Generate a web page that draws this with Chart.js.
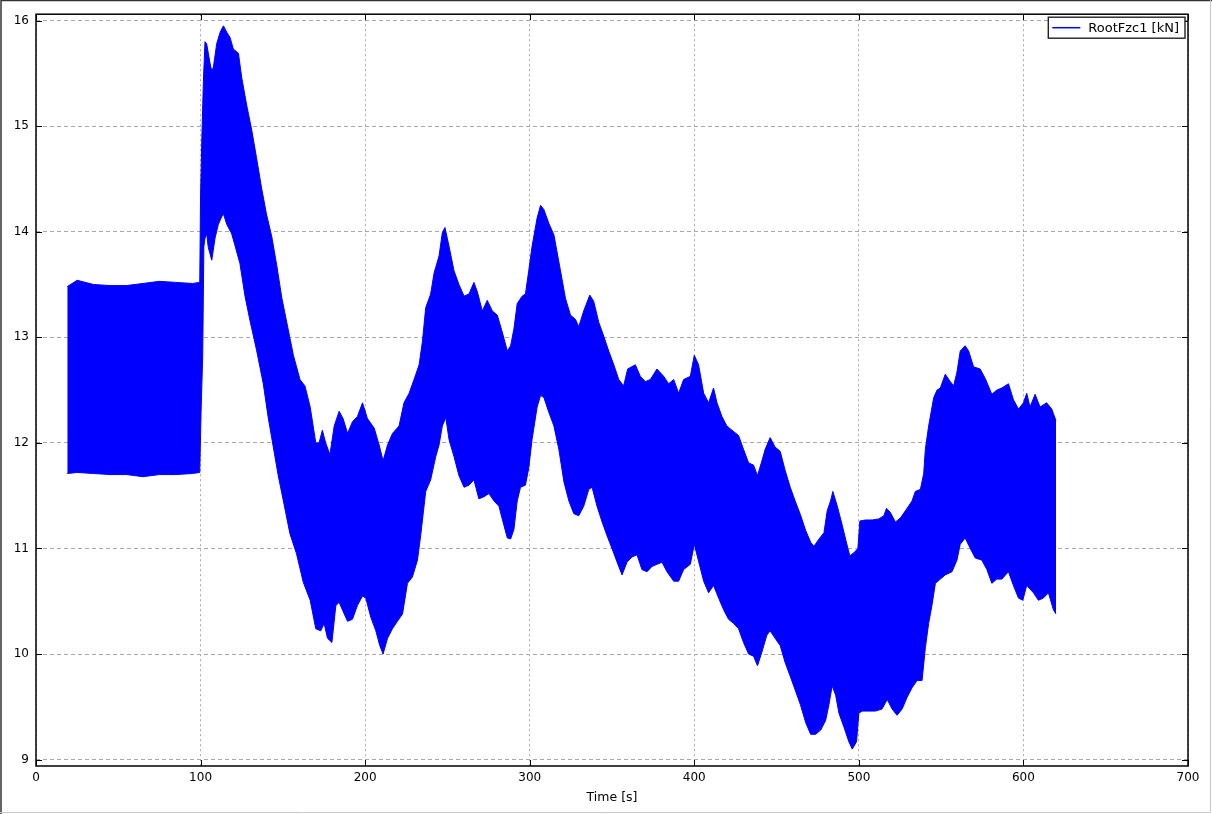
<!DOCTYPE html>
<html>
<head>
<meta charset="utf-8">
<script src="https://cdn.jsdelivr.net/npm/chart.js@4.4.1/dist/chart.umd.min.js"></script>
<style>
  html, body { margin: 0; padding: 0; background: #fff; }
  canvas { display: block; }
</style>
</head>
<body>
<canvas id="chart" width="1212" height="814"></canvas>
<script>
// RootFzc1 envelope: max and min of the blade root force over time
const upperTime = [19, 25, 35, 45, 55, 65, 75, 85, 95, 99.5, 100, 100.7, 101.7, 102.7, 103.7, 105.7, 106.8, 107.8, 109.8, 111.9,
  113.9, 115.9, 117.9, 119.9, 123, 125, 128, 131, 134, 137, 140, 143.3, 146.3, 149.4, 152.4, 156.4, 160.4, 163.4, 166.6, 170,
  172, 174, 176, 178.6, 181.2, 184.2, 186.6, 189.3, 192.3, 195.3, 198.4, 201.4, 205.5, 208.5, 210.9, 213.6, 216.6, 220.6, 223.6, 226.7,
  229.7, 232.8, 234.8, 236.8, 239.8, 241.9, 244.9, 246.9, 248.5, 251, 254, 257, 260.1, 263.1, 266.1, 268.2, 271.2, 274.2, 277.3, 280.3,
  283.3, 286.4, 288.4, 290.4, 292.4, 295.4, 297.4, 299.4, 301.4, 304.5, 306.6, 308.6, 311.6, 314.7, 318.7, 321.7, 324.8, 327.8, 329.8, 332.8,
  336.5, 338.9, 342, 345, 348, 351.1, 354.1, 357.1, 359.5, 364.2, 367.2, 370.3, 373.3, 377.3, 381.4, 384.4, 387.5, 390.5, 393.5, 397.6,
  400, 402.6, 405.7, 408.7, 411.7, 413.8, 416.8, 419.8, 422.9, 426.9, 429.9, 433, 436, 438.4, 441.1, 443.1, 446.1, 449.1, 452.2, 455.2,
  458.3, 461.3, 464.5, 467.7, 470.7, 472.7, 475.8, 478.8, 480.8, 482.8, 484.2, 486.9, 489.9, 491.9, 494.5, 497, 499.4, 500.6, 504, 508.1,
  512.1, 515.2, 516.8, 519.2, 522.2, 525.3, 529.3, 532.3, 534.3, 537.4, 539.4, 540.4, 542.4, 545.5, 547.5, 549.5, 552.5, 555.6, 557.6, 559.6,
  561.6, 564.6, 566.7, 569.7, 573.7, 576.8, 580.8, 583.8, 586.9, 590.9, 593.9, 597, 600, 602, 604, 607.1, 610.1, 614.1, 617.2, 619.8];
const upperKn = [13.48, 13.54, 13.50, 13.49, 13.49, 13.51, 13.53, 13.52, 13.51, 13.52, 14.35, 14.84, 15.42, 15.80, 15.78, 15.60, 15.52, 15.56, 15.78, 15.89,
  15.95, 15.89, 15.84, 15.73, 15.69, 15.46, 15.20, 14.97, 14.70, 14.42, 14.17, 13.95, 13.68, 13.37, 13.14, 12.83, 12.60, 12.54, 12.34, 12.00,
  12.00, 12.12, 12.00, 11.89, 12.16, 12.30, 12.23, 12.09, 12.20, 12.25, 12.38, 12.23, 12.14, 11.98, 11.83, 11.98, 12.09, 12.16, 12.38, 12.47,
  12.60, 12.74, 12.96, 13.28, 13.41, 13.61, 13.77, 13.99, 14.04, 13.86, 13.63, 13.50, 13.39, 13.41, 13.52, 13.43, 13.25, 13.35, 13.25, 13.21,
  13.05, 12.87, 12.92, 13.08, 13.32, 13.39, 13.41, 13.63, 13.86, 14.13, 14.25, 14.21, 14.08, 13.97, 13.63, 13.37, 13.21, 13.17, 13.10, 13.25,
  13.40, 13.34, 13.14, 13.01, 12.87, 12.74, 12.60, 12.54, 12.70, 12.74, 12.63, 12.58, 12.60, 12.70, 12.63, 12.56, 12.60, 12.47, 12.60, 12.63,
  12.83, 12.74, 12.47, 12.38, 12.52, 12.38, 12.25, 12.16, 12.12, 12.07, 11.94, 11.81, 11.79, 11.69, 11.83, 11.94, 12.05, 11.96, 11.92, 11.74,
  11.58, 11.45, 11.32, 11.17, 11.06, 11.02, 11.09, 11.15, 11.36, 11.45, 11.54, 11.40, 11.22, 11.09, 10.93, 10.96, 11.00, 11.26, 11.27, 11.27,
  11.28, 11.31, 11.38, 11.34, 11.25, 11.29, 11.38, 11.45, 11.54, 11.56, 11.71, 11.94, 12.16, 12.43, 12.50, 12.52, 12.65, 12.58, 12.54, 12.67,
  12.87, 12.92, 12.87, 12.72, 12.70, 12.61, 12.46, 12.50, 12.52, 12.56, 12.41, 12.32, 12.38, 12.47, 12.34, 12.46, 12.34, 12.38, 12.32, 12.21];

const lowerTime = [19, 25, 35, 45, 55, 65, 75, 85, 95, 99.5, 100.3, 101.3, 102, 102.7, 103.7, 104.7, 106.8, 108.8, 110.8, 112.8,
  113.9, 115.9, 118.9, 120.9, 123.9, 127, 130, 134, 138.1, 141.1, 144.2, 147.2, 150.2, 154.3, 158.3, 162.4, 166.6, 170, 173, 175.1,
  177.1, 179.8, 182.2, 184.2, 187.3, 189.3, 192.3, 195.3, 198.4, 200.4, 203.4, 206.5, 208.9, 210.9, 213.6, 216.6, 219.6, 222.7, 225.7, 228.7,
  231.8, 233.8, 236.8, 239.8, 242.9, 244.9, 246.9, 249, 251, 254, 257, 260.1, 263.1, 266.1, 269.1, 272.2, 275.2, 278.3, 281.3, 284.3,
  286.4, 288.4, 290.4, 292.4, 294.4, 297.4, 299.4, 301.4, 304.5, 306.6, 308.6, 311.6, 314.7, 317.7, 320.8, 323.8, 326.8, 329.8, 332.8, 335.9,
  337.9, 340.9, 344, 347, 350, 353.1, 356.1, 359.1, 362.2, 365.2, 368.2, 371.3, 374.3, 377.3, 380.4, 383.4, 387.5, 390.5, 393.5, 397.6,
  400, 402.6, 405.7, 408.7, 411.7, 414.8, 417.8, 420.8, 423.9, 426.9, 429.9, 433, 436, 438.4, 441.1, 444.1, 446.1, 449.1, 452.2, 455.2,
  458.3, 461.3, 464.5, 467.7, 470.7, 473.7, 476.8, 479.8, 481.8, 483.8, 485.9, 487.9, 490.9, 493.9, 496, 498.6, 500, 502, 506.1, 510.1,
  514.1, 517.2, 520.2, 523.2, 526.3, 529.3, 532.3, 535.4, 538.4, 540.4, 542.4, 544.4, 546.5, 549.5, 552.5, 556.6, 559.6, 561.6, 564.6, 567.7,
  570.7, 574.7, 577.8, 580.8, 583.8, 586.9, 590.9, 593.9, 597, 599.6, 602, 606.1, 609.1, 612.1, 615.2, 618.2, 619.8];
const lowerKn = [11.71, 11.72, 11.71, 11.70, 11.70, 11.68, 11.70, 11.70, 11.71, 11.72, 12.29, 12.83, 13.86, 13.94, 13.98, 13.85, 13.73, 13.94, 14.07, 14.14,
  14.17, 14.07, 13.98, 13.87, 13.70, 13.39, 13.16, 12.88, 12.56, 12.24, 11.96, 11.69, 11.46, 11.14, 10.95, 10.68, 10.51, 10.24, 10.22, 10.29,
  10.15, 10.11, 10.46, 10.49, 10.38, 10.31, 10.33, 10.46, 10.55, 10.53, 10.35, 10.22, 10.08, 10.00, 10.15, 10.24, 10.31, 10.38, 10.67, 10.73,
  10.89, 11.13, 11.54, 11.65, 11.87, 11.98, 12.16, 12.24, 12.03, 11.87, 11.69, 11.58, 11.60, 11.65, 11.47, 11.49, 11.52, 11.45, 11.40, 11.22,
  11.10, 11.09, 11.18, 11.45, 11.58, 11.60, 11.76, 12.03, 12.34, 12.45, 12.43, 12.29, 12.16, 11.94, 11.63, 11.45, 11.33, 11.31, 11.40, 11.56,
  11.58, 11.40, 11.25, 11.12, 11.00, 10.87, 10.75, 10.87, 10.92, 10.94, 10.80, 10.78, 10.83, 10.85, 10.87, 10.78, 10.69, 10.69, 10.80, 10.85,
  11.04, 10.88, 10.69, 10.58, 10.65, 10.53, 10.42, 10.33, 10.29, 10.24, 10.11, 10.00, 9.98, 9.89, 10.02, 10.18, 10.22, 10.15, 10.08, 9.92,
  9.79, 9.66, 9.52, 9.35, 9.24, 9.24, 9.28, 9.37, 9.52, 9.70, 9.61, 9.44, 9.31, 9.17, 9.10, 9.17, 9.44, 9.46, 9.46, 9.46,
  9.48, 9.57, 9.48, 9.42, 9.48, 9.59, 9.68, 9.75, 9.75, 10.06, 10.29, 10.46, 10.67, 10.71, 10.75, 10.78, 10.89, 11.04, 11.10, 11.00,
  10.91, 10.89, 10.80, 10.67, 10.71, 10.71, 10.78, 10.65, 10.53, 10.51, 10.65, 10.58, 10.51, 10.53, 10.58, 10.42, 10.38];

const seriesLabel = 'RootFzc1 [kN]';
const xTitle = 'Time [s]';
const xRange = [0, 700];
const yRange = [8.94, 16.06];

const FONT = "'DejaVu Sans', sans-serif";
const BLUE = '#0000ff';

const toPoints = (xs, ys) => xs.map((x, i) => ({ x: x, y: ys[i] }));

// matplotlib-ish axes box: frame, inward ticks on all sides, boxed legend, outer image border
const axesFrame = {
  id: 'axesFrame',
  afterDraw(chart) {
    const { ctx, chartArea: a, scales } = chart;
    const len = 6;
    ctx.save();
    ctx.strokeStyle = '#000';
    ctx.lineWidth = 1;
    ctx.beginPath();
    scales.x.ticks.forEach(t => {
      const px = Math.round(scales.x.getPixelForValue(t.value)) + 0.5;
      ctx.moveTo(px, a.bottom); ctx.lineTo(px, a.bottom - len);
      ctx.moveTo(px, a.top); ctx.lineTo(px, a.top + len);
    });
    scales.y.ticks.forEach(t => {
      const py = Math.round(scales.y.getPixelForValue(t.value)) + 0.5;
      ctx.moveTo(a.left, py); ctx.lineTo(a.left + len, py);
      ctx.moveTo(a.right, py); ctx.lineTo(a.right - len, py);
    });
    ctx.stroke();

    ctx.lineWidth = 1.5;
    ctx.strokeRect(a.left, a.top, a.right - a.left, a.bottom - a.top);

    // legend, top right inside the axes
    const ds = chart.data.datasets[0];
    ctx.font = '13px ' + FONT;
    const tw = ctx.measureText(ds.label).width;
    const bw = tw + 46, bh = 21;
    const bx = a.right - 3 - bw, by = a.top + 3;
    ctx.fillStyle = '#fff';
    ctx.fillRect(bx, by, bw, bh);
    ctx.lineWidth = 1.4;
    ctx.strokeStyle = '#222';
    ctx.strokeRect(bx, by, bw, bh);
    ctx.strokeStyle = ds.borderColor;
    ctx.lineWidth = 1.5;
    ctx.beginPath();
    ctx.moveTo(bx + 4, by + 10.5); ctx.lineTo(bx + 32, by + 10.5);
    ctx.stroke();
    ctx.fillStyle = '#000';
    ctx.textBaseline = 'middle';
    ctx.fillText(ds.label, bx + 40, by + bh / 2 + 0.5);

    ctx.lineWidth = 1.5;
    ctx.strokeStyle = '#333';
    ctx.beginPath();
    ctx.moveTo(1, 814); ctx.lineTo(1, 0.5); ctx.lineTo(1212, 0.5);
    ctx.stroke();
    ctx.lineWidth = 1;
    ctx.strokeStyle = '#c8c8c8';
    ctx.beginPath();
    ctx.moveTo(1210.5, 0); ctx.lineTo(1210.5, 812.5); ctx.lineTo(0, 812.5);
    ctx.stroke();
    ctx.restore();
  }
};

new Chart(document.getElementById('chart').getContext('2d'), {
  type: 'line',
  data: {
    datasets: [{
      label: seriesLabel,
      data: toPoints(upperTime, upperKn),
      borderColor: BLUE,
      backgroundColor: BLUE,
      borderWidth: 1,
      fill: '+1'
    }, {
      label: 'lower',
      data: toPoints(lowerTime, lowerKn),
      borderColor: BLUE,
      backgroundColor: BLUE,
      borderWidth: 1,
      fill: false
    }]
  },
  options: {
    responsive: false,
    animation: false,
    events: [],
    elements: { point: { radius: 0 }, line: { tension: 0 } },
    layout: { padding: { left: 0, top: 13, right: 24, bottom: 0 } },
    plugins: {
      tooltip: { enabled: false },
      legend: { display: false }
    },
    scales: {
      x: {
        type: 'linear',
        min: xRange[0],
        max: xRange[1],
        afterFit: s => { s.height = 48; },
        border: { display: false, dash: [2, 3] },
        grid: { color: '#a8a8a8', drawTicks: false },
        ticks: { stepSize: 100, padding: 5, color: '#000', font: { family: FONT, size: 12 } },
        title: { display: true, text: xTitle, color: '#000', padding: { top: 2, bottom: 9 }, font: { family: FONT, size: 12.5 } }
      },
      y: {
        type: 'linear',
        min: yRange[0],
        max: yRange[1],
        afterFit: s => { s.width = 36; },
        border: { display: false, dash: [4, 3] },
        grid: { color: '#a8a8a8', drawTicks: false },
        ticks: { stepSize: 1, includeBounds: false, padding: 7, color: '#000', font: { family: FONT, size: 12 } }
      }
    }
  },
  plugins: [axesFrame]
});
</script>
</body>
</html>
